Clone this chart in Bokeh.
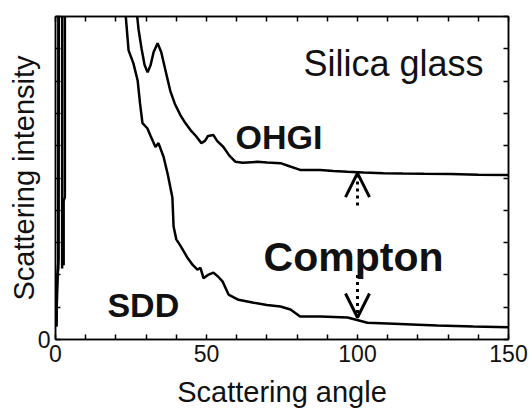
from bokeh.plotting import figure
from bokeh.models import Range1d, LinearAxis, FixedTicker, Label, Arrow, OpenHead
from bokeh.embed import file_html
from bokeh.resources import INLINE

nan = float("nan")

# OHGI: small-angle spike, gap, then main curve
ohgi_angle = [0.3, 0.5, 0.8, 1.0, 1.1, 3.0, 3.1, 3.1, 2.7, 2.7, nan,
              26.5, 27.5, 28.5, 29.5, 30.5, 31.5, 32.5, 33.8, 35.0, 36.5, 38.0, 39.5,
              41.4, 43.0, 45.0, 46.5, 48.3, 49.5, 50.5, 52.3, 53.5, 55.6, 57.5, 59.6,
              62.0, 66.9, 70.0, 74.5, 77.0, 81.0, 84.0, 87.7, 92.0, 96.7, 102.0,
              108.6, 115.0, 122.0, 130.8, 140.0, 150.0]
ohgi_intensity = [0.4, 1.6, 2.2, 2.5, 12.0, 12.0, 11.0, 4.4, 4.3, 2.3, nan,
                  10.5, 9.6, 9.0, 8.5, 8.27, 8.5, 8.9, 9.17, 8.9, 8.3, 7.7, 7.3,
                  6.94, 6.7, 6.45, 6.3, 6.08, 6.15, 6.3, 6.33, 6.15, 5.96, 5.7, 5.5,
                  5.47, 5.5, 5.48, 5.46, 5.38, 5.25, 5.25, 5.25, 5.22, 5.19, 5.17,
                  5.15, 5.14, 5.13, 5.12, 5.10, 5.09]

# SDD: small-angle spike, gap, then main curve
sdd_angle = [0.3, 0.5, 0.7, 0.9, 1.0, 2.1, 2.2, 2.2, nan,
             23.0, 24.2, 25.8, 27.2, 28.0, 28.8, 30.4, 31.5, 33.1, 34.1, 35.8, 37.2,
             38.7, 39.1, 40.0, 41.4, 43.7, 45.5, 47.0, 48.0, 49.0, 50.5, 52.3, 53.8,
             55.3, 57.3, 60.6, 65.6, 70.0, 74.5, 77.8, 81.0, 87.7, 96.7, 103.3,
             112.0, 120.0, 126.5, 138.4, 150.0]
sdd_intensity = [0.4, 1.4, 2.0, 2.2, 12.0, 12.0, 11.0, 2.2, nan,
                 10.3, 8.95, 8.55, 8.02, 7.3, 6.70, 6.54, 6.3, 5.96, 6.08, 5.65, 5.1,
                 4.4, 3.5, 3.1, 2.9, 2.53, 2.3, 2.16, 2.22, 1.9, 2.0, 2.07, 1.95,
                 1.8, 1.39, 1.23, 1.14, 1.07, 1.02, 0.93, 0.71, 0.71, 0.68, 0.52,
                 0.49, 0.46, 0.43, 0.40, 0.38]

x_ticks = list(range(0, 151, 10))
x_tick_labels = ["0", "50", "100", "150"]
y_ticks = list(range(0, 11))
y_tick_labels = ["0"]

FONT = "Liberation Sans"

p = figure(width=532, height=410, output_backend="svg", toolbar_location=None,
           x_range=Range1d(0, 150), y_range=Range1d(0, 10),
           min_border_left=55, min_border_right=24, min_border_top=16,
           min_border_bottom=70, background_fill_color="white",
           border_fill_color="white")
p.xgrid.visible = False
p.ygrid.visible = False
p.outline_line_color = "black"
p.outline_line_width = 1.5

p.line(ohgi_angle, ohgi_intensity, line_color="black", line_width=2.5)
p.line(sdd_angle, sdd_intensity, line_color="black", line_width=2.5)

x_over = {t: "" for t in x_ticks}
for s in x_tick_labels:
    x_over[int(s)] = s
y_over = {t: "" for t in y_ticks}
for s in y_tick_labels:
    y_over[int(s)] = s


def style(ax, ticks, overrides, show_labels):
    ax.ticker = FixedTicker(ticks=ticks)
    ax.major_label_overrides = overrides
    ax.major_tick_in = 5
    ax.major_tick_out = 0
    ax.minor_tick_in = 0
    ax.minor_tick_out = 0
    ax.major_tick_line_color = "black"
    ax.major_tick_line_width = 1.5
    ax.axis_line_color = "black"
    ax.axis_line_width = 1.5
    ax.major_label_text_font = FONT
    ax.major_label_text_font_size = "23px" if show_labels else "0px"
    ax.major_label_text_color = "#111111"
    ax.major_label_standoff = 5 if show_labels else 0


style(p.xaxis[0], x_ticks, x_over, True)
style(p.yaxis[0], y_ticks, y_over, True)
p.xaxis[0].axis_label = "Scattering angle"
p.yaxis[0].axis_label = "Scattering intensity"
for ax in (p.xaxis[0], p.yaxis[0]):
    ax.axis_label_text_font = FONT
    ax.axis_label_text_font_size = "29px"
    ax.axis_label_text_font_style = "normal"
    ax.axis_label_text_color = "#111111"
p.xaxis[0].axis_label_standoff = 11
p.yaxis[0].axis_label_standoff = -5

top = LinearAxis()
style(top, x_ticks, {t: "" for t in x_ticks}, False)
p.add_layout(top, "above")
right = LinearAxis()
style(right, y_ticks, {t: "" for t in y_ticks}, False)
p.add_layout(right, "right")

p.add_layout(Label(x=82.1, y=8.55, text="Silica glass", text_font=FONT,
                   text_font_size="36px", text_baseline="alphabetic",
                   text_color="#111111"))
p.add_layout(Label(x=59.6, y=6.27, text="OHGI", text_font=FONT,
                   text_font_size="34px", text_font_style="bold",
                   text_baseline="alphabetic", text_color="#111111"))
p.add_layout(Label(x=17.2, y=1.08, text="SDD", text_font=FONT,
                   text_font_size="34px", text_font_style="bold",
                   text_baseline="alphabetic", text_color="#111111"))
p.add_layout(Label(x=68.9, y=2.56, text="Compton", text_font=FONT,
                   text_font_size="41px", text_font_style="bold",
                   text_baseline="alphabetic", text_color="#111111"))

p.add_layout(Arrow(end=OpenHead(size=24, line_width=3, line_color="black"),
                   x_start=100, y_start=4.15, x_end=100, y_end=5.15,
                   line_color="black", line_width=3, line_dash="3 4"))
p.add_layout(Arrow(end=OpenHead(size=24, line_width=3, line_color="black"),
                   x_start=100, y_start=2.0, x_end=100, y_end=0.68,
                   line_color="black", line_width=3, line_dash="3 4"))

open("out.html", "w").write(file_html(p, INLINE))
